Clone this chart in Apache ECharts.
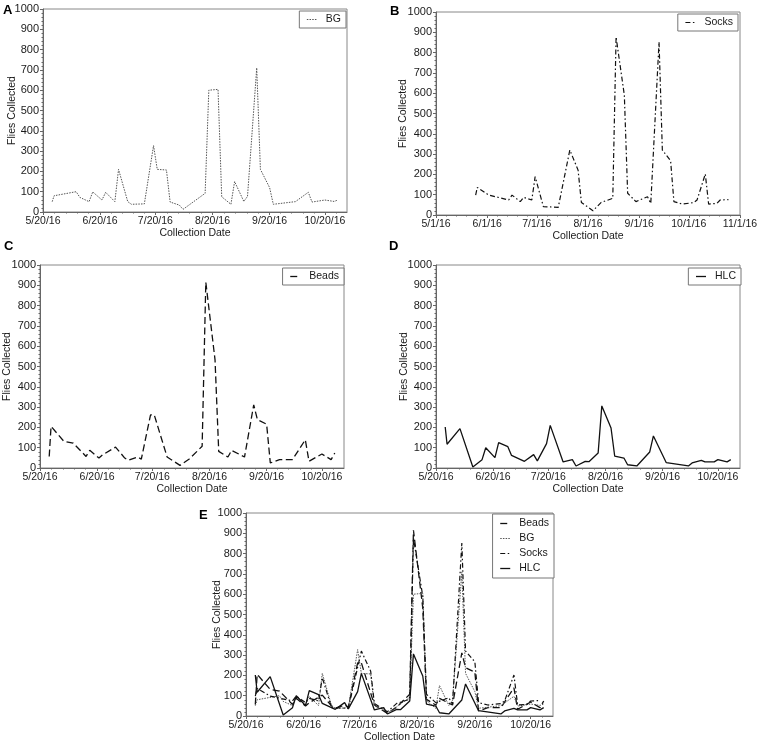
<!DOCTYPE html>
<html>
<head>
<meta charset="utf-8">
<script src="https://cdn.jsdelivr.net/npm/echarts@6/dist/echarts.min.js"></script>
<style>
  html, body { margin: 0; padding: 0; background: #fff; }
  #chart { width: 757px; height: 742px; }
</style>
</head>
<body>
<div id="chart"></div>
<script>
// collection dates (shared by all traps), null = no point on that day
const dates = [
  '2016-05-25', '2016-05-26', '2016-05-31', '2016-06-02', '2016-06-07', '2016-06-09',
  '2016-06-14', '2016-06-16', '2016-06-21', '2016-06-23', '2016-06-28', '2016-06-30',
  '2016-07-05', '2016-07-07', '2016-07-12', '2016-07-14', '2016-07-19', '2016-07-21',
  '2016-07-26', '2016-07-28', '2016-08-02', '2016-08-04', '2016-08-09', '2016-08-11',
  '2016-08-16', '2016-08-18', '2016-08-23', '2016-08-25', '2016-08-30', '2016-09-01',
  '2016-09-06', '2016-09-08', '2016-09-13', '2016-09-15', '2016-09-20', '2016-09-22',
  '2016-09-27', '2016-09-29', '2016-10-04', '2016-10-06', '2016-10-11', '2016-10-13',
  '2016-10-18', '2016-10-20', '2016-10-25', '2016-10-27'
];
const bgFlies = [
  51, 80, null, null, 100, 72, 51, 99, 59, 97, 51, 210, 51, 38, null, 40, 327, 210,
  207, 49, 34, 13, null, null, 92, 600, 604, 75, 38, 150, 52, 77, 710, 210, 120, 38,
  null, null, 51, null, 97, 49, null, 59, 52, 59
];
const socksFlies = [
  98, 136, null, 98, null, null, 74, 98, 66, 87, 74, 189, 41, null, null, 38, null, 320,
  221, 62, null, 21, 62, null, 82, 877, 590, 107, 66, null, 90, 57, 852, 320, 267, 66,
  54, null, 61, 74, 202, 54, 57, 74, 76, null
];
const beadsFlies = [
  57, 205, null, 131, 123, null, 57, 87, 49, 65, null, 103, 49, 38, 54, 44, 262, 262,
  null, 54, null, 13, 44, null, 107, 915, 533, 82, 54, 87, null, 54, 311, 238, 216, 25,
  41, null, 41, null, 139, 33, null, 69, 41, 74
];
const hlcFlies = [
  202, 117, null, 194, null, 5, 41, 100, 51, 125, 105, 62, null, 33, 66, 35, 120, 210,
  null, 30, 41, 10, 33, 31, 74, 306, 197, 58, 49, 16, 10, null, 79, 158, null, 26,
  null, null, 10, 25, 38, 30, 30, 41, 30, 41
];
const ticks20th = ['2016-05-20', '2016-06-20', '2016-07-20', '2016-08-20', '2016-09-20', '2016-10-20'];
const ticks1st = ['2016-05-01', '2016-06-01', '2016-07-01', '2016-08-01', '2016-09-01', '2016-10-01', '2016-11-01'];

const FONT = 'Liberation Sans';
const AX = '#666';
const TXT = '#1a1a1a';

const ts = (s) => {
  const [y, m, d] = s.split('-').map(Number);
  return Date.UTC(y, m - 1, d);
};
const fmtDate = (v) => {
  const d = new Date(v);
  return (d.getUTCMonth() + 1) + '/' + d.getUTCDate() + '/' + String(d.getUTCFullYear()).slice(2);
};
const pairs = (vals) => dates.map((d, i) => [ts(d), vals[i]]).filter((p) => p[1] != null);

const styles = {
  Beads: { color: '#111', width: 1.3, type: [7, 3.5] },
  BG: { color: '#555', width: 1, type: [1.5, 1.2] },
  Socks: { color: '#111', width: 1.2, type: [5, 2.5, 1.5, 2.5] },
  HLC: { color: '#111', width: 1.3, type: 'solid' },
};
const values = { Beads: beadsFlies, BG: bgFlies, Socks: socksFlies, HLC: hlcFlies };

const panels = [
  { letter: 'A', names: ['BG'], grid: [43, 9, 304, 203], ticks: ticks20th, min: '2016-05-20', max: '2016-11-01', lx: 3, ly: 4, legendRight: 411, legendTop: 11, nameGap: 25.5 },
  { letter: 'B', names: ['Socks'], grid: [436, 12, 304, 203], ticks: ticks1st, min: '2016-05-01', max: '2016-11-01', lx: 390, ly: 5, legendRight: 19, legendTop: 14, nameGap: 27 },
  { letter: 'C', names: ['Beads'], grid: [40, 265, 304, 203], ticks: ticks20th, min: '2016-05-20', max: '2016-11-01', lx: 4, ly: 240, legendRight: 413, legendTop: 268, nameGap: 27.5 },
  { letter: 'D', names: ['HLC'], grid: [436, 265, 304, 203], ticks: ticks20th, min: '2016-05-20', max: '2016-11-01', lx: 389, ly: 240, legendRight: 16, legendTop: 268, nameGap: 26.5 },
  { letter: 'E', names: ['Beads', 'BG', 'Socks', 'HLC'], grid: [246, 513, 307, 203], ticks: ticks20th, min: '2016-05-20', max: '2016-11-01', lx: 199, ly: 509, legendRight: 203, legendTop: 514, nameGap: 23 },
];

// four small ticks between each pair of labelled dates
const minorTicks = (ticks, max) => {
  const out = [];
  const t = ticks.map(ts);
  for (let i = 0; i < t.length; i++) {
    const step = i < t.length - 1 ? (t[i + 1] - t[i]) / 5 : (t[i] - t[i - 1]) / 5;
    for (let j = 1; j < 5; j++) {
      const v = t[i] + j * step;
      if (v < ts(max)) out.push(v);
    }
  }
  return out;
};

const grid = [], xAxis = [], yAxis = [], series = [], legend = [], graphic = [];

panels.forEach((p, k) => {
  grid.push({
    left: p.grid[0], top: p.grid[1], width: p.grid[2], height: p.grid[3],
    show: true, borderColor: '#888', borderWidth: 1, outerBoundsMode: 'none',
  });
  xAxis.push({
    type: 'value', gridIndex: k, position: 'bottom',
    min: ts(p.min), max: ts(p.max),
    axisLine: { lineStyle: { color: AX, width: 1 } },
    axisTick: { show: true, length: 3, customValues: p.ticks.map(ts), lineStyle: { color: AX } },
    axisLabel: {
      customValues: p.ticks.map(ts), formatter: fmtDate,
      fontSize: 10.5, color: TXT, margin: 4, fontFamily: FONT,
    },
    splitLine: { show: false },
    name: 'Collection Date', nameLocation: 'middle', nameGap: 16, nameMoveOverlap: false,
    nameTextStyle: { fontSize: 10.5, color: TXT, fontFamily: FONT },
  });
  xAxis.push({
    type: 'value', gridIndex: k, position: 'bottom',
    min: ts(p.min), max: ts(p.max),
    axisLine: { show: false },
    axisTick: { show: true, length: 1.5, customValues: minorTicks(p.ticks, p.max), lineStyle: { color: AX } },
    axisLabel: { show: false },
    splitLine: { show: false },
  });
  yAxis.push({
    type: 'value', gridIndex: k, min: 0, max: 1000, interval: 100,
    axisLine: { show: true, lineStyle: { color: AX, width: 1 } },
    axisTick: { show: true, length: 3, lineStyle: { color: AX } },
    minorTick: { show: true, splitNumber: 5, length: 1.5, lineStyle: { color: AX } },
    splitLine: { show: false },
    minorSplitLine: { show: false },
    axisLabel: { fontSize: 11, color: TXT, margin: 4, fontFamily: FONT, formatter: (v) => String(v) },
    name: 'Flies Collected', nameLocation: 'middle', nameGap: p.nameGap, nameMoveOverlap: false,
    nameTextStyle: { fontSize: 10.5, color: TXT, fontFamily: FONT },
  });
  p.names.forEach((n) => {
    series.push({
      name: n, type: 'line', xAxisIndex: 2 * k, yAxisIndex: k,
      data: pairs(values[n]),
      showSymbol: false, symbol: 'none', connectNulls: true,
      lineStyle: styles[n], itemStyle: { color: styles[n].color },
      silent: true, animation: false,
    });
  });
  const multi = p.names.length > 1;
  legend.push({
    data: p.names, orient: 'vertical', right: p.legendRight, top: p.legendTop,
    backgroundColor: '#fff', borderColor: '#777', borderWidth: 1,
    padding: multi ? [4, 5, 4, 7] : [3, 5, 3, 7], itemGap: 4, itemWidth: 10, itemHeight: 8,
    selectedMode: false,
    itemStyle: { opacity: 0 },
    lineStyle: { type: 'inherit', width: 'inherit', color: 'inherit' },
    textStyle: { fontSize: 10.5, color: TXT, fontFamily: FONT, padding: [0, 0, 0, 4] },
  });
  graphic.push({
    type: 'text', left: p.lx, top: p.ly,
    style: { text: p.letter, font: 'bold 13px "' + FONT + '"', fill: '#000' },
  });
});

const chart = echarts.init(document.getElementById('chart'));
chart.setOption({
  animation: false,
  backgroundColor: '#fff',
  textStyle: { fontFamily: FONT },
  grid, xAxis, yAxis, series, legend, graphic,
});
</script>
</body>
</html>
